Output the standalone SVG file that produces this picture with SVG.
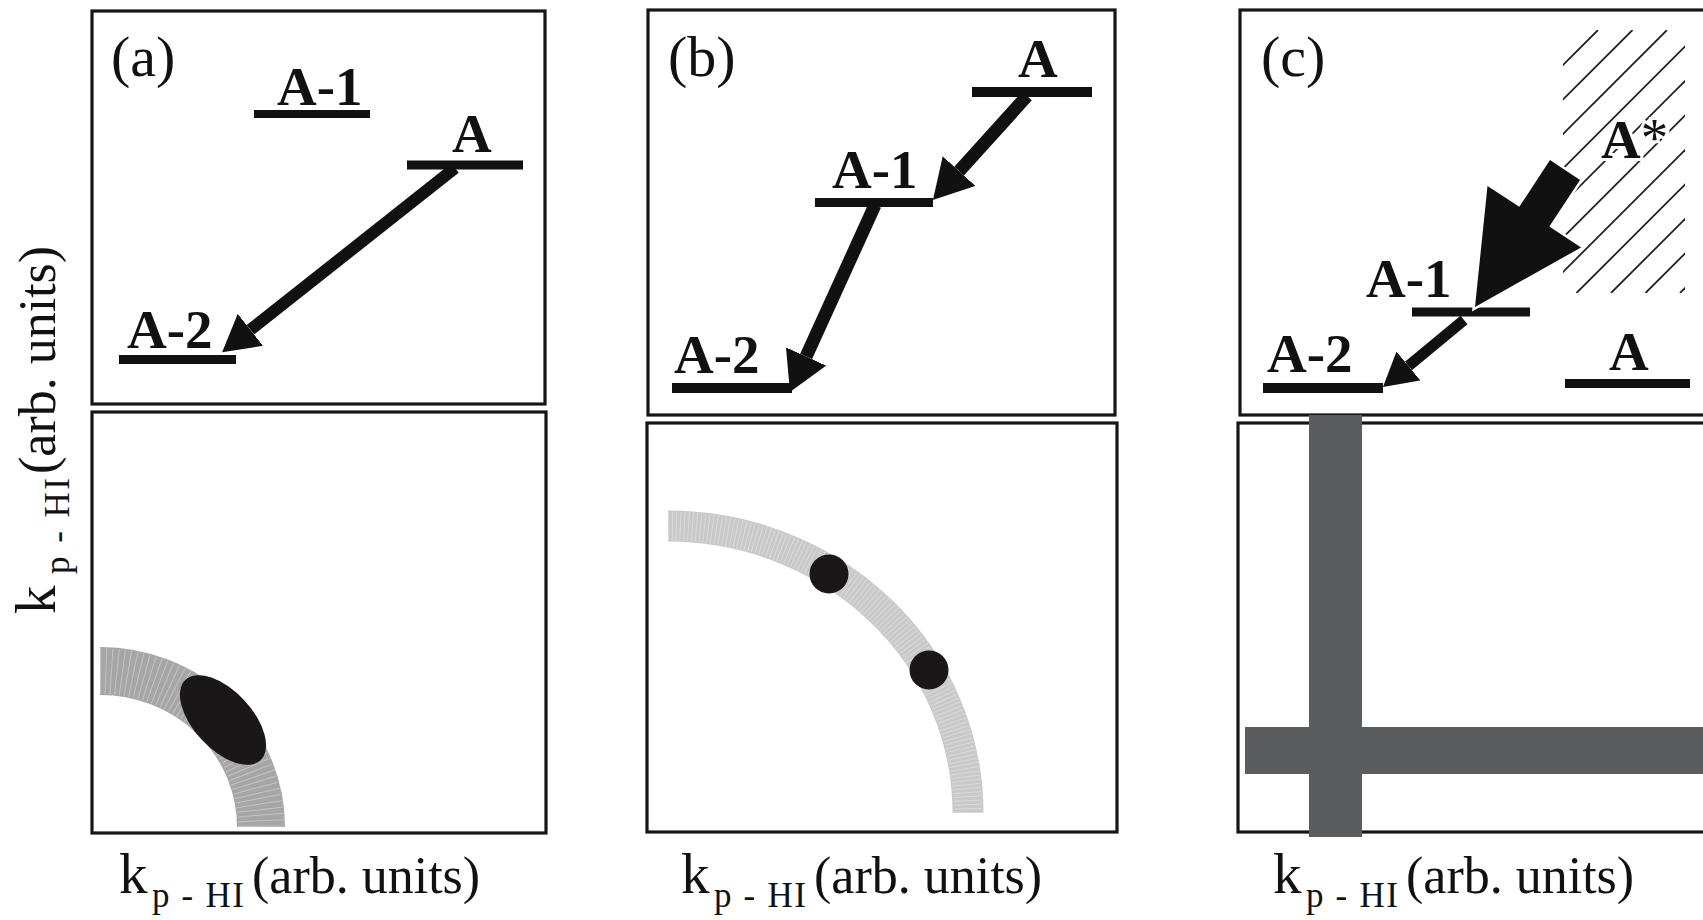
<svg xmlns="http://www.w3.org/2000/svg" width="1703" height="920" viewBox="0 0 1703 920">
<style>
.box{fill:none;stroke:#161616;stroke-width:3.2}
.lvl{stroke:#111;stroke-linecap:butt}
.lab{font-family:"Liberation Serif","Times New Roman",serif;font-weight:bold;font-size:55px;fill:#111}
.pl{font-family:"Liberation Serif","Times New Roman",serif;font-size:58px;fill:#111}
.ax{font-family:"Liberation Serif","Times New Roman",serif;fill:#111}
.k{font-size:57px}
.sub{font-size:35px}
.unit{font-size:52px}
.arr{stroke:#111;fill:none;stroke-linecap:butt;marker-end:url(#ah)}
.hatch{stroke:#222;stroke-width:1.8}
.bar{fill:#5b5c5e}
</style>
<defs>
<marker id="ah" viewBox="0 0 30 34" refX="0" refY="17" markerWidth="3" markerHeight="3.4" markerUnits="strokeWidth" orient="auto">
<path d="M0,0 L30,17 L0,34 z" fill="#111"/>
</marker>
<clipPath id="hclip"><rect x="1563" y="30" width="122" height="263"/></clipPath>
</defs>
<rect width="1703" height="920" fill="#fff"/>

<!-- panel frames -->
<g id="frames">
<rect class="box" x="92" y="11" width="453" height="393"/>
<rect class="box" x="92" y="412" width="454" height="421"/>
<rect class="box" x="648" y="10" width="467" height="405"/>
<rect class="box" x="647" y="423" width="470" height="409"/>
<rect class="box" x="1240" y="10" width="520" height="405"/>
<rect class="box" x="1238" y="423" width="520" height="409"/>
</g>

<!-- panel labels -->
<g id="panel-labels">
<text class="pl" x="111" y="76">(a)</text>
<text class="pl" x="668" y="76">(b)</text>
<text class="pl" x="1261" y="76">(c)</text>
</g>

<!-- hatched A* region -->
<g id="hatch-Astar" clip-path="url(#hclip)">
<line class="hatch" x1="1335" y1="293" x2="1598" y2="30"/>
<line class="hatch" x1="1369.5" y1="293" x2="1632.5" y2="30"/>
<line class="hatch" x1="1404" y1="293" x2="1667" y2="30"/>
<line class="hatch" x1="1438.5" y1="293" x2="1701.5" y2="30"/>
<line class="hatch" x1="1473" y1="293" x2="1736" y2="30"/>
<line class="hatch" x1="1507.5" y1="293" x2="1770.5" y2="30"/>
<line class="hatch" x1="1542" y1="293" x2="1805" y2="30"/>
<line class="hatch" x1="1576.5" y1="293" x2="1839.5" y2="30"/>
<line class="hatch" x1="1611" y1="293" x2="1874" y2="30"/>
<line class="hatch" x1="1645.5" y1="293" x2="1908.5" y2="30"/>
<line class="hatch" x1="1680" y1="293" x2="1943" y2="30"/>
</g>

<!-- level nodes panel a -->
<g id="a-A1"><line class="lvl" x1="254" y1="114" x2="370" y2="114" stroke-width="8"/><text class="lab" x="277" y="105">A-1</text></g>
<g id="a-A"><line class="lvl" x1="407" y1="165" x2="523" y2="165" stroke-width="9"/><text class="lab" x="452" y="152">A</text></g>
<g id="a-A2"><line class="lvl" x1="119" y1="359.5" x2="236" y2="359.5" stroke-width="9"/><text class="lab" x="127" y="348">A-2</text></g>

<!-- level nodes panel b -->
<g id="b-A"><line class="lvl" x1="972" y1="92" x2="1092" y2="92" stroke-width="10"/><text class="lab" x="1018" y="77">A</text></g>
<g id="b-A1"><line class="lvl" x1="815" y1="202.5" x2="933" y2="202.5" stroke-width="9"/><text class="lab" x="832" y="188">A-1</text></g>
<g id="b-A2"><line class="lvl" x1="672" y1="388" x2="792" y2="388" stroke-width="10"/><text class="lab" x="674" y="373">A-2</text></g>

<!-- level nodes panel c -->
<g id="c-A1"><line class="lvl" x1="1412" y1="312" x2="1530" y2="312" stroke-width="9"/><text class="lab" x="1366" y="297">A-1</text></g>
<g id="c-A2"><line class="lvl" x1="1263" y1="388" x2="1383" y2="388" stroke-width="10"/><text class="lab" x="1267" y="372">A-2</text></g>
<g id="c-A"><line class="lvl" x1="1565" y1="383.5" x2="1690" y2="383.5" stroke-width="9"/><text class="lab" x="1609" y="370">A</text></g>
<g id="c-Astar"><text class="lab" x="1601" y="158" stroke="#fff" stroke-width="6" paint-order="stroke">A<tspan font-weight="normal" dy="-2">*</tspan></text></g>

<!-- connectors -->
<g id="connectors">
<path class="arr" d="M455,168 L250.4,329.8" stroke-width="12"/>
<path class="arr" d="M1027,96 L959.1,171.1" stroke-width="13"/>
<path class="arr" d="M875,205 L806.1,356.5" stroke-width="13"/>
<path class="arr" d="M1464,320 L1408.4,366" stroke-width="11"/>
<polygon points="1550,160 1580,180 1549.3,226.6 1581.1,247.4 1475,307 1487.5,186 1519.3,206.8" fill="#111" stroke="#fff" stroke-width="5" paint-order="stroke" stroke-linejoin="miter"/>
</g>

<!-- lower panel a: band and ellipse -->
<g id="a-band">
<path d="M100,671 A161,156 0 0 1 261,827" fill="none" stroke="#a6a6a6" stroke-width="48"/>
<path d="M100,671 A161,156 0 0 1 261,827" fill="none" stroke="#c2c2c2" stroke-width="46" stroke-dasharray="1 4.5"/>
</g>
<g id="a-spot"><ellipse cx="223" cy="720" rx="55" ry="29" transform="rotate(47 223 720)" fill="#1a1718"/></g>

<!-- lower panel b: band and dots -->
<g id="b-band">
<path d="M668,526 A300,287 0 0 1 968,813" fill="none" stroke="#c9c9c9" stroke-width="31"/>
<path d="M668,526 A300,287 0 0 1 968,813" fill="none" stroke="#dadada" stroke-width="29" stroke-dasharray="1 3"/>
</g>
<g id="b-dot1"><circle cx="829" cy="574" r="19.5" fill="#1a1718"/></g>
<g id="b-dot2"><circle cx="929" cy="670" r="19.5" fill="#1a1718"/></g>

<!-- lower panel c: bars -->
<g id="c-bars">
<rect class="bar" x="1309" y="415" width="53" height="422"/>
<rect class="bar" x="1245" y="727" width="458" height="47"/>
</g>

<!-- axis labels -->
<g id="xlabel-a">
<text class="ax k" x="119" y="893">k</text>
<text class="ax sub" x="152" y="907" textLength="92" lengthAdjust="spacing">p - HI</text>
<text class="ax unit" x="252" y="893">(arb. units)</text>
</g>
<g id="xlabel-b">
<text class="ax k" x="681" y="893">k</text>
<text class="ax sub" x="714" y="907" textLength="92" lengthAdjust="spacing">p - HI</text>
<text class="ax unit" x="814" y="893">(arb. units)</text>
</g>
<g id="xlabel-c">
<text class="ax k" x="1273" y="893">k</text>
<text class="ax sub" x="1306" y="907" textLength="92" lengthAdjust="spacing">p - HI</text>
<text class="ax unit" x="1406" y="893">(arb. units)</text>
</g>
<g id="ylabel" transform="translate(55,614) rotate(-90)">
<text class="ax k" x="0" y="0">k</text>
<text class="ax sub" x="40" y="14" textLength="96" lengthAdjust="spacing">p - HI</text>
<text class="ax unit" x="140" y="0" font-size="51">(arb. units)</text>
</g>
</svg>
